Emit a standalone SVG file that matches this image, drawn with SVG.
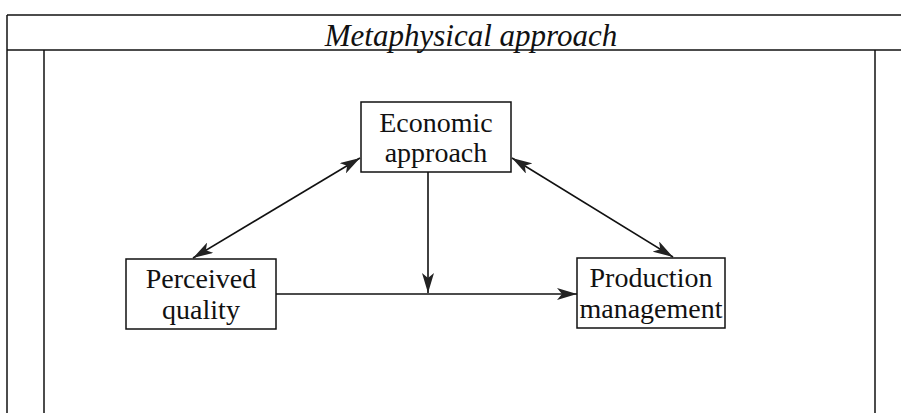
<svg xmlns="http://www.w3.org/2000/svg" width="901" height="413" viewBox="0 0 901 413">
<defs>
<style>
.frame{fill:none;stroke:#111;stroke-width:1.5}
.box{fill:#fff;stroke:#111;stroke-width:1.5}
.lbl{font-family:"Liberation Serif","Times New Roman",serif;font-size:28px;fill:#111;text-anchor:middle}
.title{font-family:"Liberation Serif","Times New Roman",serif;font-size:31px;font-style:italic;fill:#111;text-anchor:middle}
.conn{fill:none;stroke:#111;stroke-width:1.6}
</style>
<marker id="ah" viewBox="0 0 20 12" refX="20" refY="6" markerWidth="20" markerHeight="12" markerUnits="userSpaceOnUse" orient="auto-start-reverse">
<path d="M0,0 L20,6 L0,12 L5,6 Z" fill="#222"/>
</marker>
</defs>
<rect width="901" height="413" fill="#fff"/>
<g id="frame">
<line class="frame" x1="7" y1="15" x2="901" y2="15"/>
<line class="frame" x1="7" y1="15" x2="7" y2="413"/>
<line class="frame" x1="7" y1="50" x2="901" y2="50"/>
<line class="frame" x1="44" y1="50" x2="44" y2="413"/>
<line class="frame" x1="875" y1="50" x2="875" y2="413"/>
<text class="title" x="471" y="46">Metaphysical approach</text>
</g>
<g id="connectors">
<line class="conn" x1="193" y1="258" x2="360" y2="158" marker-start="url(#ah)" marker-end="url(#ah)"/>
<line class="conn" x1="512" y1="158" x2="673" y2="257" marker-start="url(#ah)" marker-end="url(#ah)"/>
<line class="conn" x1="428" y1="172" x2="428" y2="293" marker-end="url(#ah)"/>
<line class="conn" x1="276" y1="294" x2="577" y2="294" marker-end="url(#ah)"/>
</g>
<g id="economic">
<rect class="box" x="361" y="102" width="150" height="70"/>
<text class="lbl" x="436" y="132">Economic</text>
<text class="lbl" x="436" y="162">approach</text>
</g>
<g id="perceived">
<rect class="box" x="126" y="259" width="150" height="70"/>
<text class="lbl" x="201" y="288">Perceived</text>
<text class="lbl" x="201" y="319">quality</text>
</g>
<g id="production">
<rect class="box" x="577" y="258" width="148" height="70"/>
<text class="lbl" x="651" y="287">Production</text>
<text class="lbl" x="651" y="318">management</text>
</g>
</svg>
